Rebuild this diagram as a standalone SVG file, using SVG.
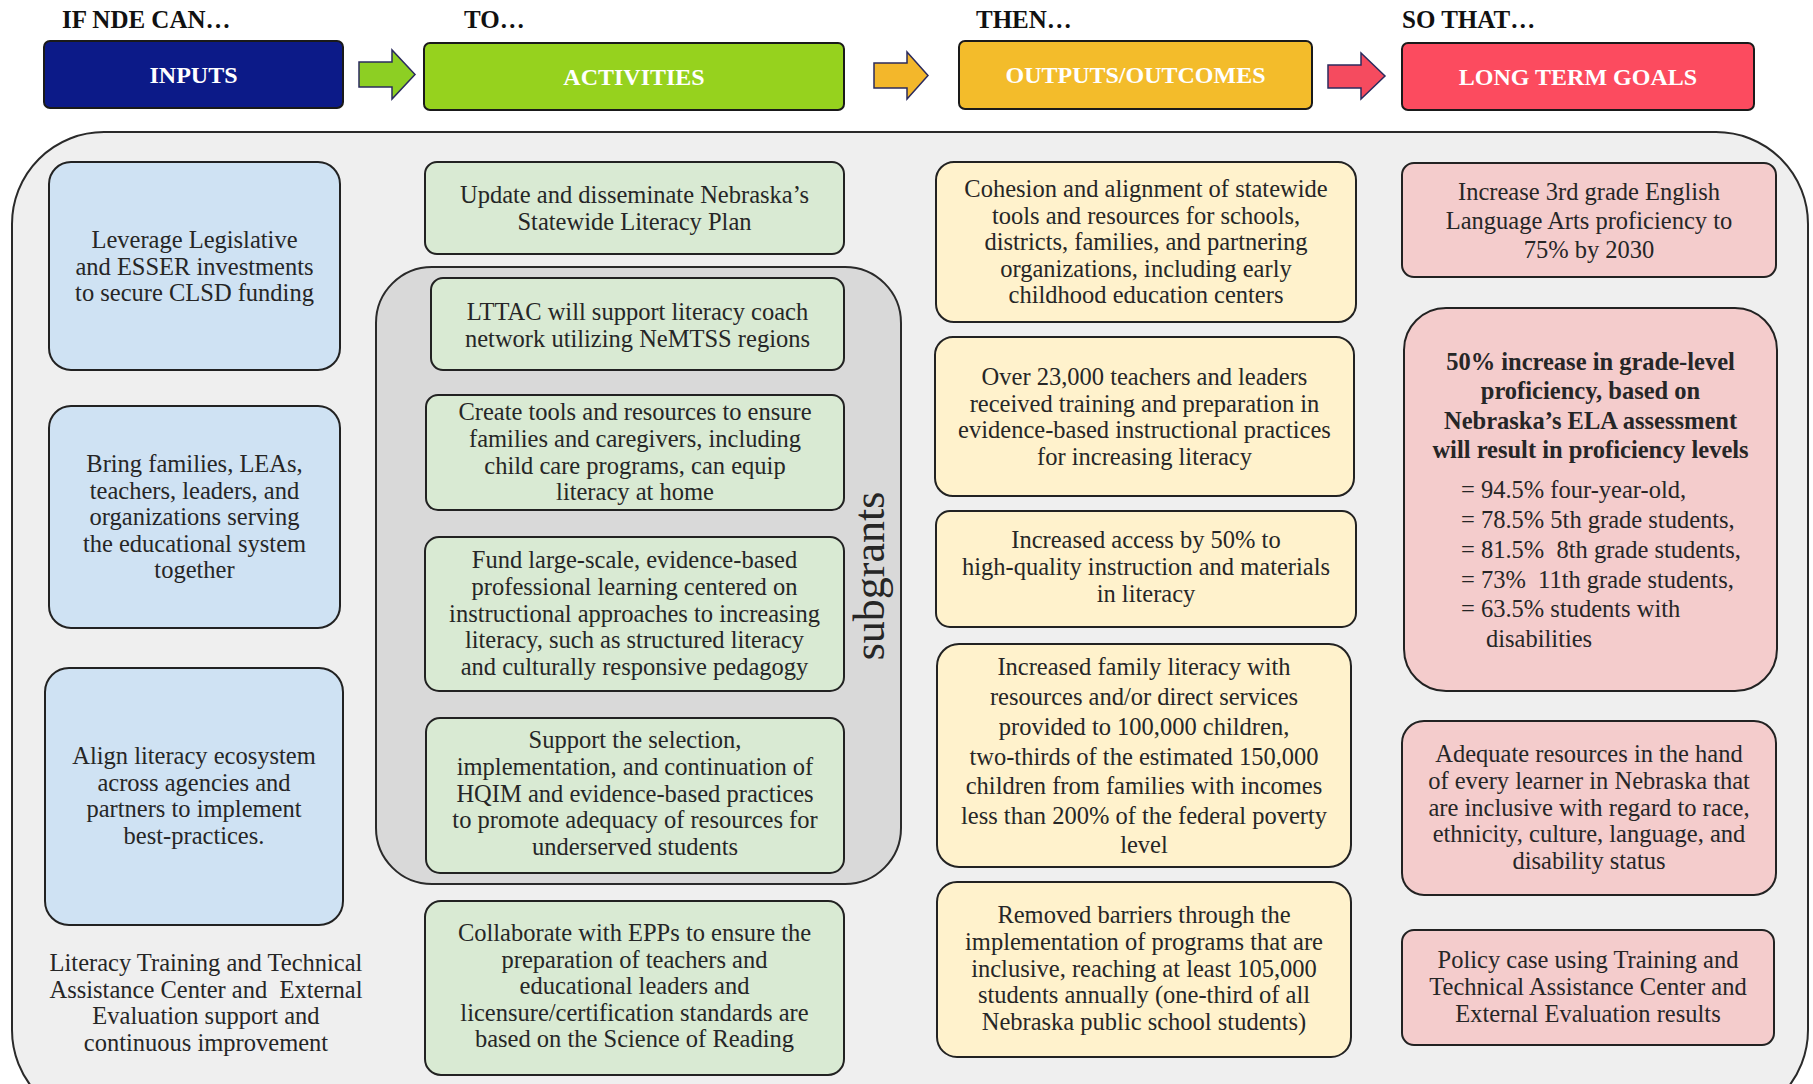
<svg xmlns="http://www.w3.org/2000/svg" width="1813" height="1084" viewBox="0 0 1813 1084">
<style>
  text { font-family: "Liberation Serif", "Times New Roman", serif; }
  .hdr { font-size: 25px; font-weight: bold; fill: #111; }
  .ttl { font-size: 24px; font-weight: bold; fill: #ffffff; text-anchor: middle; }
  .tb { stroke: #1a1a1a; stroke-width: 2; }
  .t { font-size: 24.5px; fill: #262626; text-anchor: middle; }
  .tl { font-size: 24.5px; fill: #262626; }
  .bold { font-weight: bold; }
  .in { fill: #cfe2f3; stroke: #222; stroke-width: 2; }
  .act { fill: #d9ead3; stroke: #222; stroke-width: 2; }
  .out { fill: #fff2cc; stroke: #222; stroke-width: 2; }
  .ltg { fill: #f4cccc; stroke: #222; stroke-width: 2; }
  .arr { stroke: #2b2b5e; stroke-width: 1.5; }
</style>
<rect width="1813" height="1084" fill="#ffffff"/>

<g id="headers">
  <text class="hdr" x="62" y="28">IF NDE CAN…</text>
  <text class="hdr" x="464" y="28">TO…</text>
  <text class="hdr" x="976" y="28">THEN…</text>
  <text class="hdr" x="1402" y="28">SO THAT…</text>
</g>

<g id="inputs-header">
  <rect class="tb" x="44" y="41" width="299" height="67" rx="6" fill="#0c1a88"/>
  <text class="ttl" x="193.5" y="83">INPUTS</text>
</g>
<g id="activities-header">
  <rect class="tb" x="424" y="43" width="420" height="67" rx="6" fill="#96d21e"/>
  <text class="ttl" x="634" y="85">ACTIVITIES</text>
</g>
<g id="outputs-header">
  <rect class="tb" x="959" y="41" width="353" height="68" rx="6" fill="#f3bc2b"/>
  <text class="ttl" x="1135.5" y="83">OUTPUTS/OUTCOMES</text>
</g>
<g id="goals-header">
  <rect class="tb" x="1402" y="43" width="352" height="67" rx="6" fill="#fc4b5f"/>
  <text class="ttl" x="1578" y="85">LONG TERM GOALS</text>
</g>

<g id="connectors">
  <path class="arr" d="M359,62 H392 V50 L415,74.5 L392,99 V87 H359 Z" fill="#8dcf23"/>
  <path class="arr" d="M874,63 H907 V52 L928,75.5 L907,99 V88 H874 Z" fill="#f3b72b"/>
  <path class="arr" d="M1328,65 H1361 V53 L1385,76 L1361,99 V88 H1328 Z" fill="#f54b5f"/>
</g>

<g id="container">
  <rect x="12" y="132" width="1796" height="990" rx="92" fill="#efefef" stroke="#2a2a2a" stroke-width="2"/>
</g>

<g id="subgrants">
  <rect x="376" y="267" width="525" height="617" rx="56" fill="#d9d9d9" stroke="#2a2a2a" stroke-width="2"/>
  <text x="884" y="576" transform="rotate(-90 884 576)" style="font-size:44px;fill:#262626;text-anchor:middle">subgrants</text>
</g>

<!-- Inputs column -->
<g id="in1">
  <rect class="in" x="49" y="162" width="291" height="208" rx="22"/>
  <text class="t" x="194.5" y="248">Leverage Legislative</text>
  <text class="t" x="194.5" y="274.5">and ESSER investments</text>
  <text class="t" x="194.5" y="301">to secure CLSD funding</text>
</g>
<g id="in2">
  <rect class="in" x="49" y="406" width="291" height="222" rx="22"/>
  <text class="t" x="194.5" y="472">Bring families, LEAs,</text>
  <text class="t" x="194.5" y="498.5">teachers, leaders, and</text>
  <text class="t" x="194.5" y="525">organizations serving</text>
  <text class="t" x="194.5" y="551.5">the educational system</text>
  <text class="t" x="194.5" y="578">together</text>
</g>
<g id="in3">
  <rect class="in" x="45" y="668" width="298" height="257" rx="24"/>
  <text class="t" x="194" y="764">Align literacy ecosystem</text>
  <text class="t" x="194" y="790.5">across agencies and</text>
  <text class="t" x="194" y="817">partners to implement</text>
  <text class="t" x="194" y="843.5">best-practices.</text>
</g>
<g id="in4">
  <text class="t" x="206" y="971">Literacy Training and Technical</text>
  <text class="t" x="206" y="997.5" xml:space="preserve">Assistance Center and  External</text>
  <text class="t" x="206" y="1024">Evaluation support and</text>
  <text class="t" x="206" y="1050.5">continuous improvement</text>
</g>

<!-- Activities column -->
<g id="act1">
  <rect class="act" x="425" y="162" width="419" height="92" rx="12"/>
  <text class="t" x="634.5" y="203">Update and disseminate Nebraska’s</text>
  <text class="t" x="634.5" y="230">Statewide Literacy Plan</text>
</g>
<g id="act2">
  <rect class="act" x="431" y="278" width="413" height="92" rx="12"/>
  <text class="t" x="637.5" y="320">LTTAC will support literacy coach</text>
  <text class="t" x="637.5" y="347">network utilizing NeMTSS regions</text>
</g>
<g id="act3">
  <rect class="act" x="426" y="395" width="418" height="115" rx="12"/>
  <text class="t" x="635" y="420">Create tools and resources to ensure</text>
  <text class="t" x="635" y="447">families and caregivers, including</text>
  <text class="t" x="635" y="473.5">child care programs, can equip</text>
  <text class="t" x="635" y="500">literacy at home</text>
</g>
<g id="act4">
  <rect class="act" x="425" y="537" width="419" height="154" rx="14"/>
  <text class="t" x="634.5" y="568">Fund large-scale, evidence-based</text>
  <text class="t" x="634.5" y="595">professional learning centered on</text>
  <text class="t" x="634.5" y="621.5">instructional approaches to increasing</text>
  <text class="t" x="634.5" y="648">literacy, such as structured literacy</text>
  <text class="t" x="634.5" y="675">and culturally responsive pedagogy</text>
</g>
<g id="act5">
  <rect class="act" x="426" y="718" width="418" height="155" rx="14"/>
  <text class="t" x="635" y="748">Support the selection,</text>
  <text class="t" x="635" y="775">implementation, and continuation of</text>
  <text class="t" x="635" y="801.5">HQIM and evidence-based practices</text>
  <text class="t" x="635" y="828">to promote adequacy of resources for</text>
  <text class="t" x="635" y="855">underserved students</text>
</g>
<g id="act6">
  <rect class="act" x="425" y="901" width="419" height="174" rx="16"/>
  <text class="t" x="634.5" y="941">Collaborate with EPPs to ensure the</text>
  <text class="t" x="634.5" y="967.5">preparation of teachers and</text>
  <text class="t" x="634.5" y="994">educational leaders and</text>
  <text class="t" x="634.5" y="1020.5">licensure/certification standards are</text>
  <text class="t" x="634.5" y="1047">based on the Science of Reading</text>
</g>

<!-- Outputs column -->
<g id="out1">
  <rect class="out" x="936" y="162" width="420" height="160" rx="18"/>
  <text class="t" x="1146" y="197">Cohesion and alignment of statewide</text>
  <text class="t" x="1146" y="223.5">tools and resources for schools,</text>
  <text class="t" x="1146" y="250">districts, families, and partnering</text>
  <text class="t" x="1146" y="276.5">organizations, including early</text>
  <text class="t" x="1146" y="303">childhood education centers</text>
</g>
<g id="out2">
  <rect class="out" x="935" y="337" width="419" height="159" rx="18"/>
  <text class="t" x="1144.5" y="385">Over 23,000 teachers and leaders</text>
  <text class="t" x="1144.5" y="411.5">received training and preparation in</text>
  <text class="t" x="1144.5" y="438">evidence-based instructional practices</text>
  <text class="t" x="1144.5" y="464.5">for increasing literacy</text>
</g>
<g id="out3">
  <rect class="out" x="936" y="511" width="420" height="116" rx="14"/>
  <text class="t" x="1146" y="548">Increased access by 50% to</text>
  <text class="t" x="1146" y="575">high-quality instruction and materials</text>
  <text class="t" x="1146" y="602">in literacy</text>
</g>
<g id="out4">
  <rect class="out" x="937" y="644" width="414" height="223" rx="22"/>
  <text class="t" x="1144" y="675">Increased family literacy with</text>
  <text class="t" x="1144" y="705">resources and/or direct services</text>
  <text class="t" x="1144" y="735">provided to 100,000 children,</text>
  <text class="t" x="1144" y="764.5">two-thirds of the estimated 150,000</text>
  <text class="t" x="1144" y="794">children from families with incomes</text>
  <text class="t" x="1144" y="824">less than 200% of the federal poverty</text>
  <text class="t" x="1144" y="853">level</text>
</g>
<g id="out5">
  <rect class="out" x="937" y="882" width="414" height="175" rx="20"/>
  <text class="t" x="1144" y="923">Removed barriers through the</text>
  <text class="t" x="1144" y="950">implementation of programs that are</text>
  <text class="t" x="1144" y="976.5">inclusive, reaching at least 105,000</text>
  <text class="t" x="1144" y="1003">students annually (one-third of all</text>
  <text class="t" x="1144" y="1030">Nebraska public school students)</text>
</g>

<!-- Long term goals column -->
<g id="ltg1">
  <rect class="ltg" x="1402" y="163" width="374" height="114" rx="12"/>
  <text class="t" x="1589" y="200">Increase 3rd grade English</text>
  <text class="t" x="1589" y="229">Language Arts proficiency to</text>
  <text class="t" x="1589" y="258">75% by 2030</text>
</g>
<g id="ltg2">
  <rect class="ltg" x="1404" y="308" width="373" height="383" rx="42"/>
  <text class="t bold" x="1590.5" y="370">50% increase in grade-level</text>
  <text class="t bold" x="1590.5" y="399">proficiency, based on</text>
  <text class="t bold" x="1590.5" y="428.5">Nebraska’s ELA assessment</text>
  <text class="t bold" x="1590.5" y="458">will result in proficiency levels</text>
  <text class="tl" x="1461" y="498">= 94.5% four-year-old,</text>
  <text class="tl" x="1461" y="528">= 78.5% 5th grade students,</text>
  <text class="tl" x="1461" y="558" xml:space="preserve">= 81.5%  8th grade students,</text>
  <text class="tl" x="1461" y="587.5" xml:space="preserve">= 73%  11th grade students,</text>
  <text class="tl" x="1461" y="617">= 63.5% students with</text>
  <text class="tl" x="1486" y="647">disabilities</text>
</g>
<g id="ltg3">
  <rect class="ltg" x="1402" y="721" width="374" height="174" rx="22"/>
  <text class="t" x="1589" y="762">Adequate resources in the hand</text>
  <text class="t" x="1589" y="789">of every learner in Nebraska that</text>
  <text class="t" x="1589" y="815.5">are inclusive with regard to race,</text>
  <text class="t" x="1589" y="842">ethnicity, culture, language, and</text>
  <text class="t" x="1589" y="869">disability status</text>
</g>
<g id="ltg4">
  <rect class="ltg" x="1402" y="930" width="372" height="115" rx="12"/>
  <text class="t" x="1588" y="968">Policy case using Training and</text>
  <text class="t" x="1588" y="995">Technical Assistance Center and</text>
  <text class="t" x="1588" y="1022">External Evaluation results</text>
</g>
</svg>
